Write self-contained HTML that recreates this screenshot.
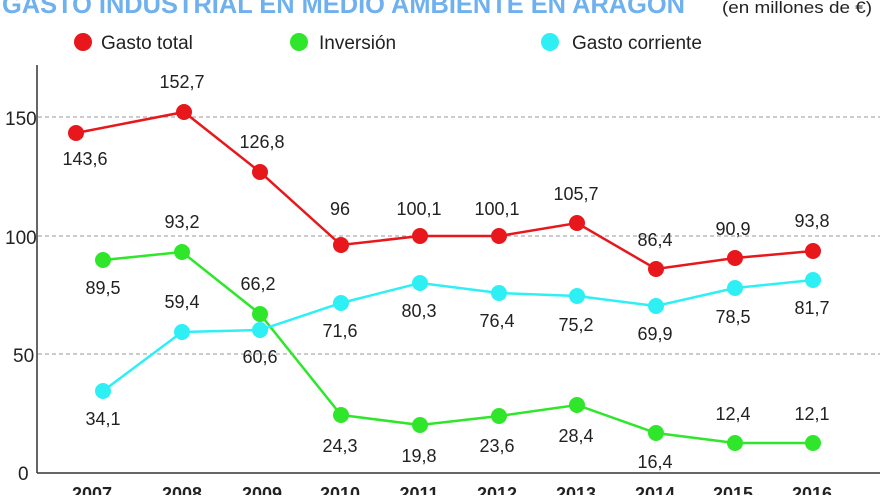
<!DOCTYPE html><html><head><style>body{margin:0;width:880px;height:495px;overflow:hidden;background:#fff}text{font-family:"Liberation Sans",sans-serif}</style></head><body>
<svg width="880" height="495" xmlns="http://www.w3.org/2000/svg">
<text x="2" y="13" font-size="26" font-weight="bold" fill="#6fb0ee" textLength="683" lengthAdjust="spacingAndGlyphs">GASTO INDUSTRIAL EN MEDIO AMBIENTE EN ARAGÓN</text>
<text x="722" y="13" font-size="17" fill="#222" textLength="150" lengthAdjust="spacingAndGlyphs">(en millones de €)</text>
<circle cx="83" cy="42" r="9" fill="#e8171b"/><text x="101" y="49" font-size="19" fill="#222">Gasto total</text>
<circle cx="299" cy="42" r="9" fill="#2fe62a"/><text x="319" y="49" font-size="19" fill="#222">Inversión</text>
<circle cx="550" cy="42" r="9" fill="#2ef0f4"/><text x="572" y="49" font-size="19" fill="#222">Gasto corriente</text>
<g stroke="#999" stroke-dasharray="4,3" stroke-width="1"><line x1="38" y1="117" x2="880" y2="117"/><line x1="38" y1="236" x2="880" y2="236"/><line x1="38" y1="354" x2="880" y2="354"/></g>
<line x1="37" y1="65" x2="37" y2="473" stroke="#333" stroke-width="1.5"/>
<line x1="37" y1="473" x2="880" y2="473" stroke="#333" stroke-width="1.5"/>
<g font-size="19" fill="#222"><text x="5" y="125">150</text><text x="5" y="244">100</text><text x="13" y="362">50</text><text x="18" y="480">0</text></g>
<g font-size="18" font-weight="bold" fill="#222" text-anchor="middle"><text x="92" y="500">2007</text><text x="182" y="500">2008</text><text x="262" y="500">2009</text><text x="340" y="500">2010</text><text x="419" y="500">2011</text><text x="497" y="500">2012</text><text x="576" y="500">2013</text><text x="655" y="500">2014</text><text x="733" y="500">2015</text><text x="812" y="500">2016</text></g>
<g stroke-width="2.5" fill="none">
<polyline stroke="#e8171b" points="76,133 184,112 260,172 341,245 420,236 499,236 577,223 656,269 735,258 813,251"/>
<polyline stroke="#2fe62a" points="103,260 182,252 260,314 341,415 420,425 499,416 577,405 656,433 735,443 813,443"/>
<polyline stroke="#2ef0f4" points="103,391 182,332 260,330 341,303 420,283 499,293 577,296 656,306 735,288 813,280"/>
</g>
<g fill="#e8171b"><circle cx="76" cy="133" r="8"/><circle cx="184" cy="112" r="8"/><circle cx="260" cy="172" r="8"/><circle cx="341" cy="245" r="8"/><circle cx="420" cy="236" r="8"/><circle cx="499" cy="236" r="8"/><circle cx="577" cy="223" r="8"/><circle cx="656" cy="269" r="8"/><circle cx="735" cy="258" r="8"/><circle cx="813" cy="251" r="8"/></g>
<g fill="#2fe62a"><circle cx="103" cy="260" r="8"/><circle cx="182" cy="252" r="8"/><circle cx="260" cy="314" r="8"/><circle cx="341" cy="415" r="8"/><circle cx="420" cy="425" r="8"/><circle cx="499" cy="416" r="8"/><circle cx="577" cy="405" r="8"/><circle cx="656" cy="433" r="8"/><circle cx="735" cy="443" r="8"/><circle cx="813" cy="443" r="8"/></g>
<g fill="#2ef0f4"><circle cx="103" cy="391" r="8"/><circle cx="182" cy="332" r="8"/><circle cx="260" cy="330" r="8"/><circle cx="341" cy="303" r="8"/><circle cx="420" cy="283" r="8"/><circle cx="499" cy="293" r="8"/><circle cx="577" cy="296" r="8"/><circle cx="656" cy="306" r="8"/><circle cx="735" cy="288" r="8"/><circle cx="813" cy="280" r="8"/></g>
<g font-size="18" fill="#222" text-anchor="middle">
<text x="85" y="165">143,6</text><text x="182" y="88">152,7</text><text x="262" y="148">126,8</text><text x="340" y="215">96</text><text x="419" y="215">100,1</text><text x="497" y="215">100,1</text><text x="576" y="200">105,7</text><text x="655" y="246">86,4</text><text x="733" y="235">90,9</text><text x="812" y="227">93,8</text>
<text x="103" y="294">89,5</text><text x="182" y="228">93,2</text><text x="258" y="290">66,2</text><text x="340" y="452">24,3</text><text x="419" y="462">19,8</text><text x="497" y="452">23,6</text><text x="576" y="442">28,4</text><text x="655" y="468">16,4</text><text x="733" y="420">12,4</text><text x="812" y="420">12,1</text>
<text x="103" y="425">34,1</text><text x="182" y="308">59,4</text><text x="260" y="363">60,6</text><text x="340" y="337">71,6</text><text x="419" y="317">80,3</text><text x="497" y="327">76,4</text><text x="576" y="331">75,2</text><text x="655" y="340">69,9</text><text x="733" y="323">78,5</text><text x="812" y="314">81,7</text>
</g>
</svg></body></html>
